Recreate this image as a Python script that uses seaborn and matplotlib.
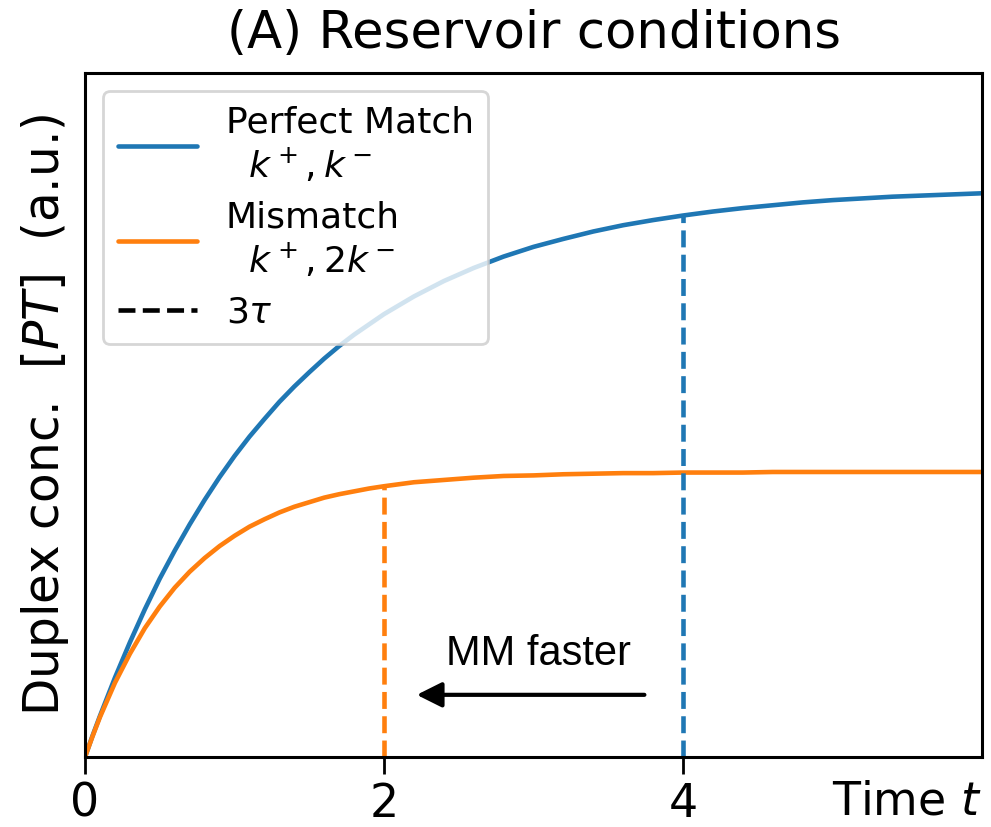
import numpy as np
import pandas as pd
import seaborn as sns
import matplotlib.pyplot as plt

# values (duplex conc., a.u.)
time = [0.0, 0.05, 0.1, 0.2, 0.3, 0.4, 0.5, 0.6, 0.7, 0.8, 0.9, 1.0,
        1.1, 1.2, 1.3, 1.4, 1.5, 1.6, 1.7, 1.8, 1.9, 2.0,
        2.2, 2.4, 2.6, 2.8, 3.0, 3.2, 3.4, 3.6, 3.8, 4.0,
        4.2, 4.4, 4.6, 4.8, 5.0, 5.2, 5.4, 5.6, 5.8, 6.0]
perfect_match = [0.0, 0.037, 0.072, 0.139, 0.201, 0.259, 0.313, 0.362, 0.408, 0.451, 0.491, 0.528,
                 0.562, 0.593, 0.623, 0.650, 0.675, 0.699, 0.721, 0.741, 0.759, 0.777,
                 0.808, 0.835, 0.858, 0.878, 0.895, 0.909, 0.922, 0.933, 0.942, 0.950,
                 0.957, 0.963, 0.968, 0.973, 0.977, 0.980, 0.983, 0.985, 0.987, 0.989]
mismatch = [0.0, 0.036, 0.070, 0.130, 0.181, 0.226, 0.264, 0.297, 0.325, 0.349, 0.370, 0.388,
            0.404, 0.417, 0.429, 0.439, 0.447, 0.455, 0.461, 0.466, 0.471, 0.475,
            0.482, 0.486, 0.490, 0.493, 0.494, 0.496, 0.497, 0.498, 0.498, 0.499,
            0.499, 0.499, 0.500, 0.500, 0.500, 0.500, 0.500, 0.500, 0.500, 0.500]

# 3 tau for each curve
t3_pm, y3_pm = 4.0, 0.950
t3_mm, y3_mm = 2.0, 0.475

labels = ['Perfect Match\n  $k^+,k^-$', 'Mismatch\n  $k^+,2k^-$', '3$\\tau$']
blue = '#1f77b4'
orange = '#ff7f0e'

sns.set_style('ticks')
plt.rcParams['font.family'] = ['DejaVu Sans']
plt.rcParams.update({'text.color': 'black', 'axes.labelcolor': 'black',
                     'xtick.color': 'black', 'ytick.color': 'black',
                     'axes.edgecolor': 'black'})

df = pd.DataFrame({'t': time, 'pm': perfect_match, 'mm': mismatch})

fig = plt.figure(figsize=(9.91, 8.27), dpi=100)
ax = fig.add_axes([0.0858, 0.0847, 0.9052, 0.827])

lw = 3.3
sns.lineplot(data=df, x='t', y='pm', color=blue, lw=lw, ax=ax, label=labels[0])
sns.lineplot(data=df, x='t', y='mm', color=orange, lw=lw, ax=ax, label=labels[1])
ax.plot([t3_pm, t3_pm], [0, y3_pm], ls='--', color=blue, lw=lw)
ax.plot([t3_mm, t3_mm], [0, y3_mm], ls='--', color=orange, lw=lw)
ax.plot([], [], ls='--', color='k', lw=lw, label=labels[2])

# arrow + note
ax.annotate('', xy=(2.2, 0.109), xytext=(3.76, 0.109),
            arrowprops=dict(arrowstyle='-|>', color='k', lw=3, mutation_scale=38))
ax.text(3.03, 0.145, 'MM faster', ha='center', va='bottom', fontsize=30,
        family='Liberation Sans')

ax.set_xlim(0, 6)
ax.set_ylim(0, 1.2)
ax.set_xticks([0, 2, 4])
ax.set_yticks([])
ax.tick_params(axis='x', labelsize=33, length=12, width=2, pad=6, direction='out')
for s in ax.spines.values():
    s.set_linewidth(2.2)
    s.set_visible(True)

ax.set_xlabel('Time $t$', fontsize=33, loc='right')
ax.xaxis.set_label_coords(1.0, -0.033)
ax.set_ylabel('Duplex conc.  $[PT]$  (a.u.)', fontsize=35, labelpad=10)
ax.set_title('(A) Reservoir conditions', fontsize=37, pad=18)

leg = ax.legend(loc='upper left', fontsize=26, frameon=True, handlelength=2.2,
                labelspacing=0.45, borderpad=0.4, handletextpad=0.8)
leg.get_frame().set_linewidth(2)

fig.savefig('out.png', dpi=100)
